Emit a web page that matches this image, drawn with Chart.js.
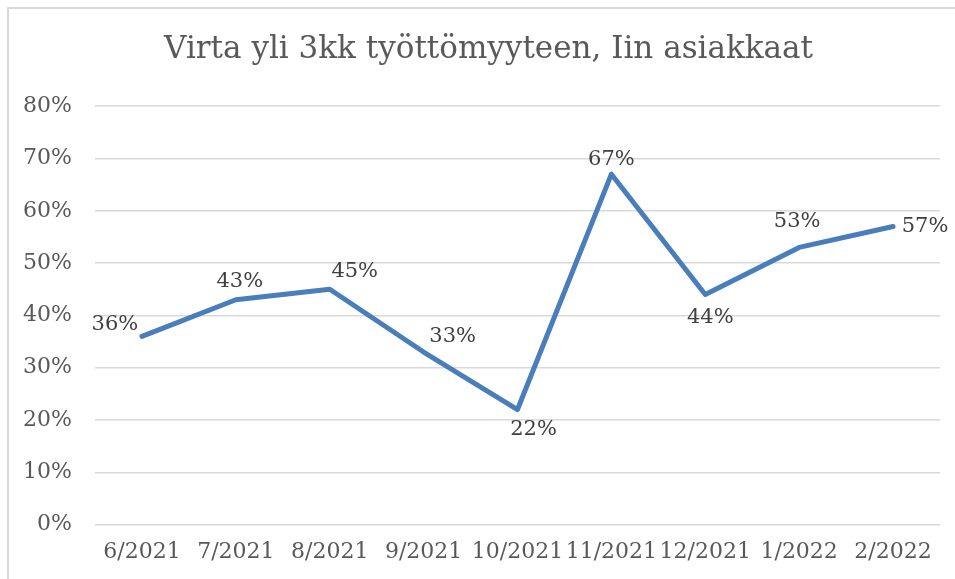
<!DOCTYPE html>
<html>
<head>
<meta charset="utf-8">
<script src="https://cdn.jsdelivr.net/npm/chart.js@4/dist/chart.umd.min.js"></script>
<style>
  html, body { margin: 0; padding: 0; background: #fff; overflow: hidden; }
  #frame { position: absolute; left: 7px; top: 7px; width: 1000px; height: 1000px;
           border-left: 2px solid #d9d9d9; border-top: 2px solid #d9d9d9; box-sizing: border-box; }
  #wrap { position: absolute; left: 0; top: 0; width: 955px; height: 579px; }
</style>
</head>
<body>
<div id="frame"></div>
<div id="wrap"><canvas id="chart"></canvas></div>
<script>
const months = ['6/2021', '7/2021', '8/2021', '9/2021', '10/2021', '11/2021', '12/2021', '1/2022', '2/2022'];
const flowShare = [36, 43, 45, 33, 22, 67, 44, 53, 57];
const yTicks = [0, 10, 20, 30, 40, 50, 60, 70, 80];

const serif = "'DejaVu Serif', serif";

// label offsets from each point (px), as placed in the original
const labelOffsets = [
  [-27, -12], [4, -18], [25, -18], [29, -15], [16, 20],
  [0, -15], [5, 23], [-2, -26], [32, 0]
];

const dataLabels = {
  id: 'dataLabels',
  afterDatasetsDraw(chart) {
    const ctx = chart.ctx;
    const meta = chart.getDatasetMeta(0);
    ctx.save();
    ctx.font = '21px ' + serif;
    ctx.fillStyle = '#404040';
    ctx.textAlign = 'center';
    ctx.textBaseline = 'middle';
    meta.data.forEach((pt, i) => {
      const [dx, dy] = labelOffsets[i];
      ctx.fillText(flowShare[i] + '%', pt.x + dx, pt.y + dy);
    });
    ctx.restore();
  }
};

new Chart(document.getElementById('chart'), {
  type: 'line',
  data: {
    labels: months,
    datasets: [{
      data: flowShare,
      borderColor: '#4a7ebb',
      borderWidth: 5,
      borderJoinStyle: 'round',
      borderCapStyle: 'round',
      pointRadius: 0,
      tension: 0,
      fill: false
    }]
  },
  options: {
    responsive: true,
    maintainAspectRatio: false,
    animation: false,
    layout: { padding: { left: 22, right: 0, top: 0, bottom: 0 } },
    plugins: {
      legend: { display: false },
      tooltip: { enabled: false },
      title: {
        display: true,
        text: 'Virta yli 3kk työttömyyteen, Iin asiakkaat',
        color: '#595959',
        font: { family: serif, size: 31, weight: 'normal' },
        padding: { top: 31, bottom: 38 }
      }
    },
    scales: {
      x: {
        offset: true,
        grid: { display: false, drawTicks: false },
        border: { display: false },
        ticks: {
          color: '#595959',
          font: { family: serif, size: 22 },
          padding: 14,
          maxRotation: 0,
          autoSkip: false
        }
      },
      y: {
        min: 0,
        max: 80,
        afterFit(scale) { scale.width = 73; },
        afterBuildTicks(scale) { scale.ticks = yTicks.map(v => ({ value: v })); },
        grid: { color: '#d9d9d9', lineWidth: 1.5, drawTicks: false },
        border: { display: false },
        ticks: {
          color: '#595959',
          font: { family: serif, size: 22 },
          padding: 23,
          callback: v => v + '%'
        }
      },
      yRight: {
        position: 'right',
        afterFit(scale) { scale.width = 15; },
        grid: { display: false, drawTicks: false },
        border: { display: false },
        ticks: { display: false }
      }
    }
  },
  plugins: [dataLabels]
});
</script>
</body>
</html>
